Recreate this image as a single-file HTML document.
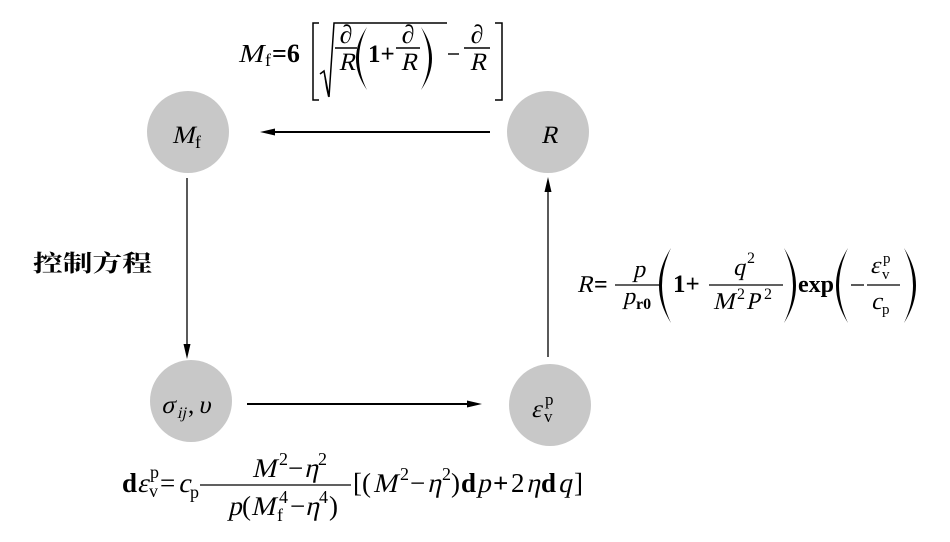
<!DOCTYPE html>
<html><head><meta charset="utf-8"><style>
html,body{margin:0;padding:0;background:#fff;}
svg{display:block;}
text{font-family:"Liberation Serif","Times New Roman",Times,"DejaVu Serif","Noto Serif CJK SC","Noto Sans CJK SC",serif;fill:#000;}
.b{font-weight:bold}
</style></head><body>
<svg width="950" height="542" viewBox="0 0 950 542" xmlns="http://www.w3.org/2000/svg">
<rect width="950" height="542" fill="#fff"/>

<!-- circles -->
<g fill="#c8c8c8">
<circle cx="188" cy="132" r="41"/>
<circle cx="548" cy="132" r="41"/>
<circle cx="191" cy="401" r="41"/>
<circle cx="550" cy="405" r="41"/>
</g>

<!-- arrows -->
<g stroke="#000" fill="none">
<line x1="490" y1="132" x2="270" y2="132" stroke-width="2"/>
<line x1="187" y1="178" x2="187" y2="350" stroke-width="1.3"/>
<line x1="247" y1="404" x2="472" y2="404" stroke-width="2"/>
<line x1="548" y1="357" x2="548" y2="186" stroke-width="1.3"/>
</g>
<g fill="#000">
<polygon points="260,132 275,128.5 275,135.5"/>
<polygon points="187,359 183.5,344 190.5,344"/>
<polygon points="482,404 467,400.5 467,407.5"/>
<polygon points="548,177 544.5,192 551.5,192"/>
</g>

<!-- node labels -->
<text transform="translate(172 143) skewX(-13)" font-size="25">M</text>
<text x="195" y="148" font-size="18">f</text>
<text transform="translate(541 143) skewX(-13)" font-size="25">R</text>
<text transform="translate(161 413) skewX(-13)" font-size="25">σ</text>
<text transform="translate(177 418) skewX(-13)" font-size="16">ij</text>
<text x="188" y="413" font-size="25">,</text>
<text transform="translate(198 413) skewX(-13)" font-size="25">υ</text>
<text transform="translate(531 417) skewX(-13)" font-size="25">ε</text>
<text x="545" y="405" font-size="17">p</text>
<text x="544" y="422" font-size="17">v</text>

<!-- Chinese label -->
<text x="33" y="271" font-size="23" font-weight="bold" textLength="119" lengthAdjust="spacingAndGlyphs">控制方程</text>

<!-- TOP FORMULA -->
<text transform="translate(238 62) skewX(-13)" font-size="26" textLength="25" lengthAdjust="spacingAndGlyphs">M</text>
<text x="265" y="66" font-size="18">f</text>
<text x="272" y="62" font-size="26" class="b">=6</text>
<g stroke="#000" fill="none" stroke-width="1.5">
<path d="M319,23 H313 V100 H319"/>
<path d="M495,23 H502 V100 H495"/>
<path d="M320,74 L324,71 L329,97 L334,23 L447,23"/>
</g>
<path d="M323.5,71.5 L329,95 L328,97 L326,88 Z" fill="#000"/>
<g fill="#000">
<path d="M367,27 Q345,58.5 367,90 Q351,58.5 367,27 Z"/>
<path d="M421,27 Q443,58.5 421,90 Q437,58.5 421,27 Z"/>
</g>
<text x="346" y="43" font-size="26" text-anchor="middle">∂</text>
<text transform="translate(347 70) skewX(-13)" font-size="25" text-anchor="middle">R</text>
<text x="368" y="62" font-size="25" class="b">1+</text>
<text x="408" y="43" font-size="26" text-anchor="middle">∂</text>
<text transform="translate(409 70) skewX(-13)" font-size="25" text-anchor="middle">R</text>
<text x="477" y="43" font-size="26" text-anchor="middle">∂</text>
<text transform="translate(478 70) skewX(-13)" font-size="25" text-anchor="middle">R</text>
<g stroke="#000" stroke-width="1.4">
<line x1="335" y1="48" x2="357" y2="48"/>
<line x1="396" y1="48" x2="420" y2="48"/>
<line x1="464" y1="48" x2="490" y2="48"/>
<line x1="448" y1="54" x2="459" y2="54"/>
</g>

<!-- RIGHT FORMULA -->
<text transform="translate(577 292) skewX(-13)" font-size="24">R</text>
<text x="594" y="292" font-size="24" class="b">=</text>
<text transform="translate(639 277) skewX(-13)" font-size="24" text-anchor="middle">p</text>
<text transform="translate(623 304) skewX(-13)" font-size="24">p</text>
<text x="636" y="309" font-size="16" class="b">r0</text>
<text x="673" y="292" font-size="25" class="b">1+</text>
<text transform="translate(733 275) skewX(-13)" font-size="24">q</text>
<text x="747" y="263" font-size="16">2</text>
<text transform="translate(713 309) skewX(-13)" font-size="24">M</text>
<text x="737" y="299" font-size="16">2</text>
<text transform="translate(746 309) skewX(-13)" font-size="24">P</text>
<text x="764" y="299" font-size="16">2</text>
<text x="798" y="292" font-size="24" class="b">exp</text>
<text transform="translate(870 273) skewX(-13)" font-size="24">ε</text>
<text x="883" y="263" font-size="15">p</text>
<text x="882" y="279" font-size="15">v</text>
<text transform="translate(871 309) skewX(-13)" font-size="24">c</text>
<text x="882" y="314" font-size="15">p</text>
<g stroke="#000" stroke-width="1.3">
<line x1="615" y1="285" x2="659" y2="285"/>
<line x1="709" y1="285" x2="783" y2="285"/>
<line x1="867" y1="285" x2="900" y2="285"/>
<line x1="851" y1="285" x2="864" y2="285"/>
</g>
<g fill="#000">
<path d="M671,248 Q647,285.5 671,323 Q653,285.5 671,248 Z"/>
<path d="M784,248 Q808,285.5 784,323 Q802,285.5 784,248 Z"/>
<path d="M848,248 Q824,285.5 848,323 Q830,285.5 848,248 Z"/>
<path d="M904,248 Q928,285.5 904,323 Q922,285.5 904,248 Z"/>
</g>

<!-- BOTTOM FORMULA -->
<text x="122" y="492" font-size="27" class="b">d</text>
<text transform="translate(137 492) skewX(-13)" font-size="27">ε</text>
<text x="150" y="478" font-size="18">p</text>
<text x="149" y="497" font-size="18">v</text>
<text x="160" y="492" font-size="27">=</text>
<text transform="translate(178 492) skewX(-13)" font-size="27">c</text>
<text x="190" y="498" font-size="18">p</text>
<line x1="200" y1="485" x2="351" y2="485" stroke="#000" stroke-width="1.3"/>
<text transform="translate(252 477) skewX(-13)" font-size="27">M</text>
<text x="279" y="465" font-size="18">2</text>
<text x="288" y="477" font-size="27">−</text>
<text transform="translate(304 477) skewX(-13)" font-size="27">η</text>
<text x="318" y="465" font-size="18">2</text>
<text transform="translate(228 515) skewX(-13)" font-size="27">p</text>
<text x="242" y="515" font-size="27">(</text>
<text transform="translate(251 515) skewX(-13)" font-size="27">M</text>
<text x="279" y="503" font-size="18">4</text>
<text x="277" y="521" font-size="18">f</text>
<text x="290" y="515" font-size="27">−</text>
<text transform="translate(305 515) skewX(-13)" font-size="27">η</text>
<text x="319" y="503" font-size="18">4</text>
<text x="329" y="515" font-size="27">)</text>
<text x="353" y="492" font-size="27">[(</text>
<text transform="translate(373 492) skewX(-13)" font-size="27">M</text>
<text x="400" y="480" font-size="18">2</text>
<text x="410" y="492" font-size="27">−</text>
<text transform="translate(427 492) skewX(-13)" font-size="27">η</text>
<text x="442" y="480" font-size="18">2</text>
<text x="451" y="492" font-size="27">)</text>
<text x="461" y="492" font-size="27" class="b">d</text>
<text transform="translate(477 492) skewX(-13)" font-size="27">p</text>
<text x="493" y="492" font-size="27" class="b">+</text>
<text x="511" y="492" font-size="27">2</text>
<text transform="translate(526 492) skewX(-13)" font-size="27">η</text>
<text x="541" y="492" font-size="27" class="b">d</text>
<text transform="translate(558 492) skewX(-13)" font-size="27">q</text>
<text x="574" y="492" font-size="27">]</text>
</svg>
</body></html>
